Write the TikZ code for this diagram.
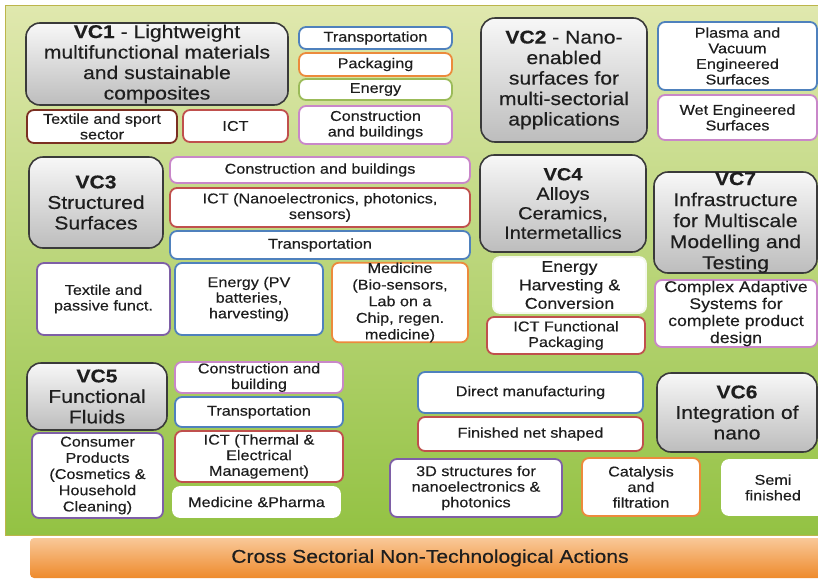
\documentclass[tikz,border=0pt]{standalone}
\usepackage{fontspec}
\setmainfont{Liberation Sans}[FakeStretch=1.14, FakeBold=0.35]
\definecolor{txt}{HTML}{1E1E1E}
\definecolor{cblue}{HTML}{4F81BD}
\definecolor{corange}{HTML}{EC8A3C}
\definecolor{cgreen}{HTML}{9BBB59}
\definecolor{cpink}{HTML}{C987C9}
\definecolor{cred}{HTML}{C0504D}
\definecolor{cdred}{HTML}{7B2F22}
\definecolor{cpurple}{HTML}{7E5FA6}
\definecolor{vcborder}{HTML}{3A3A3A}
\definecolor{bgtop}{HTML}{E0E8AE}
\definecolor{bgbot}{HTML}{93C243}
\definecolor{ortop}{HTML}{F9C898}
\definecolor{orbot}{HTML}{EE8A2C}
\tikzset{
  vc/.style={draw=vcborder, line width=1.6pt, rounded corners=14pt,
    top color=gray!6, bottom color=gray!52, align=center,
    font=\fontsize{18.5}{20.5}\selectfont, text=txt, inner sep=0pt},
  sub/.style={draw=#1, fill=white, line width=1.8pt, rounded corners=7pt,
    align=center, font=\fontsize{14.2}{15.6}\selectfont, text=txt, inner sep=0pt},
  big/.style={font=\fontsize{15.5}{17.5}\selectfont},
}
\newcommand\bx[7]{\node[#6, minimum width={#4-#2}, minimum height={#5-#3}] (#1) at ({(#2+#4)/2},{(#3+#5)/2}) {#7};}
\begin{document}
\begin{tikzpicture}[x=1pt,y=-1pt]
\useasboundingbox (0,0) rectangle (818,579);
% background
\fill[top color=bgtop, bottom color=bgbot, draw=olive!60, line width=0.6pt] (5,5) rectangle (840,535);
\node[rounded corners=4pt, top color=ortop, bottom color=orbot, minimum width=810, minimum height=40,
  font=\fontsize{18.5}{20}\selectfont, text=txt, inner sep=0pt] (bar) at (435,558) {\hspace*{-10pt}Cross Sectorial Non-Technological Actions};
% VC1
\bx{vc1}{26}{23}{288}{105}{vc}{\textbf{VC1} - Lightweight\\multifunctional materials\\and sustainable\\composites}
\bx{trans1}{299}{27}{452}{49}{sub=cblue}{Transportation}
\bx{pack1}{299}{53}{452}{76}{sub=corange}{Packaging}
\bx{energy1}{299}{79}{452}{100}{sub=cgreen}{Energy}
\bx{constr1}{299}{106}{452}{144}{sub=cpink}{Construction\\and buildings}
\bx{textile1}{27}{110}{177}{143}{sub=cdred}{Textile and sport\\sector}
\bx{ict1}{183}{110}{288}{142}{sub=cred}{ICT}
% VC2
\bx{vc2}{481}{18}{647}{142}{vc}{\textbf{VC2} - Nano-\\enabled\\surfaces for\\multi-sectorial\\applications}
\bx{plasma}{658}{22}{817}{90}{sub=cblue}{Plasma and\\Vacuum\\Engineered\\Surfaces}
\bx{wet}{658}{95}{817}{140}{sub=cpink}{Wet Engineered\\Surfaces}
% VC3
\bx{vc3}{29}{157}{163}{248}{vc}{\textbf{VC3}\\Structured\\Surfaces}
\bx{constr3}{170}{157}{470}{183}{sub=cpink}{Construction and buildings}
\bx{ict3}{170}{188}{470}{227}{sub=cred}{ICT (Nanoelectronics, photonics,\\sensors)}
\bx{trans3}{170}{231}{470}{259}{sub=cblue}{Transportation}
\bx{textile3}{37}{263}{170}{335}{sub=cpurple}{Textile and\\passive funct.}
\bx{energy3}{175}{263}{323}{335}{sub=cblue}{Energy (PV\\batteries,\\harvesting)}
\bx{med3}{332}{263}{468}{342}{sub=corange, font=\fontsize{14.2}{16.6}\selectfont}{Medicine\\(Bio-sensors,\\Lab on a\\Chip, regen.\\medicine)}
% VC4
\bx{vc4}{480}{155}{646}{252}{vc, font=\fontsize{17.5}{19.5}\selectfont}{\textbf{VC4}\\Alloys\\Ceramics,\\Intermetallics}
\bx{energy4}{493}{257}{646}{313}{sub=white!90!cgreen, big, font=\fontsize{15.5}{18.5}\selectfont}{Energy\\Harvesting \&\\Conversion}
\bx{ict4}{487}{317}{645}{354}{sub=cred}{ICT Functional\\Packaging}
% VC7
\bx{vc7}{654}{172}{817}{273}{vc, font=\fontsize{18.5}{21}\selectfont}{\textbf{VC7}\\Infrastructure\\for Multiscale\\Modelling and\\Testing}
\bx{complex}{655}{280}{817}{347}{sub=cpink, big, font=\fontsize{15.5}{17}\selectfont}{Complex Adaptive\\Systems for\\complete product\\design}
% VC5
\bx{vc5}{27}{363}{167}{430}{vc}{\textbf{VC5}\\Functional\\Fluids}
\bx{constr5}{175}{362}{343}{393}{sub=cpink}{Construction and\\building}
\bx{trans5}{175}{397}{343}{427}{sub=cblue}{Transportation}
\bx{ict5}{175}{431}{343}{482}{sub=cred}{ICT (Thermal \&\\Electrical\\Management)}
\bx{med5}{173}{487}{340}{517}{sub=white}{Medicine \&Pharma}
\bx{consumer}{32}{433}{163}{518}{sub=cpurple, font=\fontsize{14.2}{16.2}\selectfont}{Consumer\\Products\\(Cosmetics \&\\Household\\Cleaning)}
% VC6
\bx{direct}{418}{372}{643}{413}{sub=cblue}{Direct manufacturing}
\bx{finished}{418}{417}{643}{451}{sub=cred}{Finished net shaped}
\bx{vc6}{657}{373}{817}{452}{vc}{\textbf{VC6}\\Integration of\\nano}
\bx{struct}{390}{459}{562}{517}{sub=cpurple}{3D structures for\\nanoelectronics \&\\photonics}
\bx{catal}{582}{458}{700}{516}{sub=corange}{Catalysis\\and\\filtration}
\bx{semi}{722}{460}{824}{515}{sub=white}{Semi\\finished}
\end{tikzpicture}
\end{document}
